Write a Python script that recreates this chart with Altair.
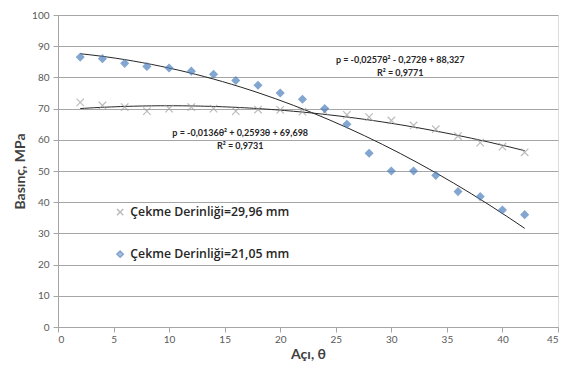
import altair as alt
import pandas as pd

angles = [2, 4, 6, 8, 10, 12, 14, 16, 18, 20, 22, 24, 26, 28, 30, 32, 34, 36, 38, 40, 42]
blue_vals = [86.5, 86.0, 84.5, 83.5, 83.0, 82.0, 81.0, 79.0, 77.5, 75.0, 73.0, 70.0,
             65.0, 55.7, 50.0, 50.0, 48.6, 43.4, 41.8, 37.5, 36.0]
gray_vals = [72.0, 71.0, 70.5, 69.2, 70.0, 70.5, 70.0, 69.2, 69.7, 69.6, 69.0, 69.0,
             68.0, 67.3, 66.2, 64.6, 63.4, 61.2, 59.1, 57.8, 56.0]
series_names = ["Çekme Derinliği=29,96 mm", "Çekme Derinliği=21,05 mm"]

eq_text = ["p = -0,0257θ² - 0,272θ + 88,327", "R² = 0,9771",
           "p = -0,0136θ² + 0,2593θ + 69,698", "R² = 0,9731"]
eq_x = [30.8, 30.8, 16.4, 16.4]
eq_y = [85.6, 81.4, 62.2, 58.0]

rows = []
for a, v in zip(angles, gray_vals):
    rows.append({"angle": a, "value": v, "series": series_names[0]})
for a, v in zip(angles, blue_vals):
    rows.append({"angle": a, "value": v, "series": series_names[1]})
df = pd.DataFrame(rows)
eq_df = pd.DataFrame({"x": eq_x, "y": eq_y, "t": eq_text})

FONT = "Lato"
xscale = alt.Scale(domain=[0, 45], nice=False)
yscale = alt.Scale(domain=[0, 100], nice=False)

xaxis = alt.Axis(values=list(range(0, 46, 5)), title="Açı, θ", grid=False,
                 domainColor="#a6a6a6", tickColor="#a6a6a6", tickSize=5,
                 labelColor="#595959", labelFontSize=10, labelFont=FONT,
                 labelOverlap=False,
                 titleFont=FONT, titleFontSize=14, titleFontWeight="bold",
                 titleColor="#404040", titlePadding=3, labelPadding=2)
yaxis = alt.Axis(values=list(range(0, 101, 10)), title="Basınç, MPa", grid=True,
                 gridColor="#a6a6a6", gridWidth=1, labelOverlap=False,
                 domainColor="#a6a6a6", tickColor="#a6a6a6", tickSize=5,
                 labelColor="#595959", labelFontSize=10, labelFont=FONT,
                 titleFont=FONT, titleFontSize=14, titleFontWeight="bold",
                 titleColor="#404040", titlePadding=4, labelPadding=4)

xpath = "M-1,-1L1,1M-1,1L1,-1"
color_scale = alt.Scale(domain=series_names, range=["#a0a0a0", "#4f81bd"])
shape_scale = alt.Scale(domain=series_names, range=[xpath, "diamond"])

legend = alt.Legend(title=None, orient="none", legendX=56, legendY=191,
                    labelFont="Open Sans", labelFontSize=12.3, labelFontWeight=600,
                    labelColor="#262626", labelLimit=0,
                    rowPadding=28, symbolSize=40, labelOffset=4)

points = alt.Chart(df).mark_point(filled=False, strokeWidth=1.2, size=55).encode(
    x=alt.X("angle:Q", scale=xscale, axis=xaxis),
    y=alt.Y("value:Q", scale=yscale, axis=yaxis),
    color=alt.Color("series:N", scale=color_scale, legend=legend),
    fill=alt.Fill("series:N", scale=alt.Scale(domain=series_names,
                                              range=["transparent", "#4f81bd"]), legend=None),
    shape=alt.Shape("series:N", scale=shape_scale, legend=legend),
)

fits = alt.Chart(df).transform_regression(
    "angle", "value", method="poly", order=2, groupby=["series"], extent=[2, 42]
).mark_line(strokeWidth=1, color="#262626").encode(
    x=alt.X("angle:Q", scale=xscale, axis=xaxis),
    y=alt.Y("value:Q", scale=yscale, axis=yaxis),
    detail="series:N",
)

eqs = alt.Chart(eq_df).mark_text(font=FONT, fontSize=9, fontWeight="bold",
                                 color="#262626").encode(
    x=alt.X("x:Q", scale=xscale, axis=xaxis),
    y=alt.Y("y:Q", scale=yscale, axis=yaxis),
    text="t:N",
)

chart = alt.layer(fits, points, eqs).properties(
    width=500, height=312,
    autosize=alt.AutoSizeParams(type="none"),
    padding={"left": 50, "top": 7, "right": 5, "bottom": 40},
).configure_view(stroke=None).configure(background="white")

chart.save("out.html", embed_options={"renderer": "svg", "actions": False})
